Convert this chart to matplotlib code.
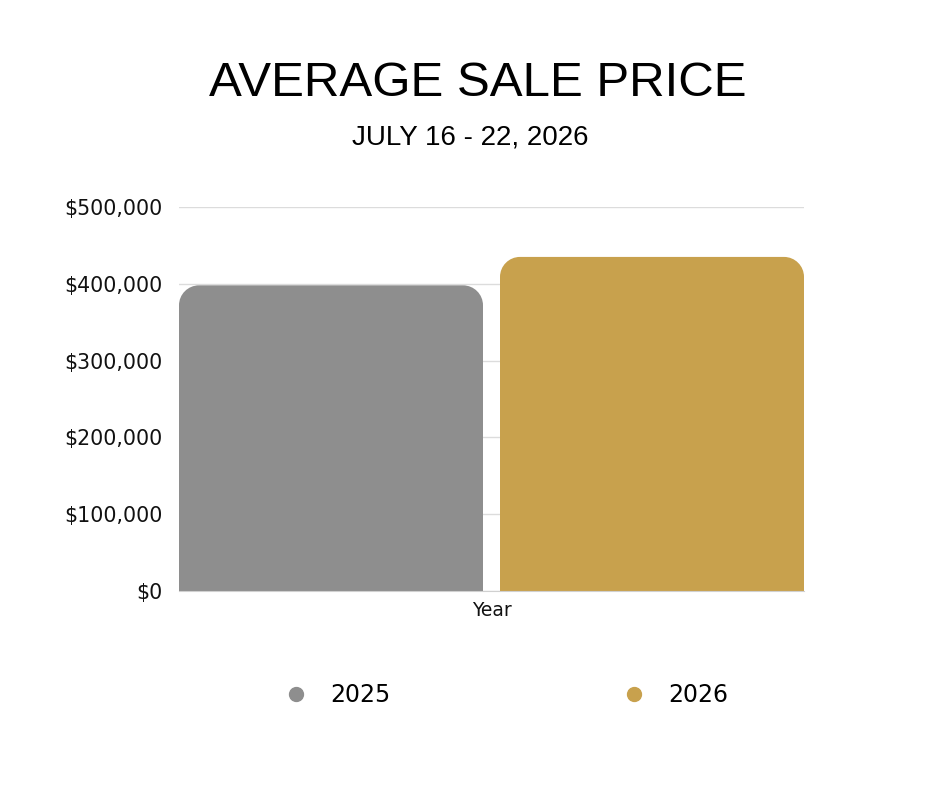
import numpy as np
import matplotlib.pyplot as plt
from matplotlib.path import Path
from matplotlib.patches import PathPatch
from matplotlib.lines import Line2D

# values
years = ["2025", "2026"]
avg_price = [398000, 435000]
bar_colors = ["#8e8e8e", "#c8a14d"]
y_ticks = [0, 100000, 200000, 300000, 400000, 500000]


def rounded_top(x0, w, h, rx, ry):
    """Path for a bar with rounded top corners (data units)."""
    x1 = x0 + w
    k = 0.5523
    verts = [(x0, 0), (x0, h - ry),
             (x0, h - ry + k * ry), (x0 + rx - k * rx, h), (x0 + rx, h),
             (x1 - rx, h),
             (x1 - rx + k * rx, h), (x1, h - ry + k * ry), (x1, h - ry),
             (x1, 0), (x0, 0)]
    codes = [Path.MOVETO, Path.LINETO,
             Path.CURVE4, Path.CURVE4, Path.CURVE4,
             Path.LINETO,
             Path.CURVE4, Path.CURVE4, Path.CURVE4,
             Path.LINETO, Path.CLOSEPOLY]
    return Path(verts, codes)


fig = plt.figure(figsize=(9.4, 7.88), dpi=100)
ax = fig.add_axes([179 / 940, 197 / 788, 625 / 940, 384 / 788])

width = 0.4864
xpos = [width / 2, 1 - width / 2]
bars = ax.bar(xpos, avg_price, width=width, color=bar_colors, zorder=2)

# swap plain rectangles for rounded-top shapes
rx = 20 / 625
ry = 20 / 384 * 500000
for b in bars:
    p = PathPatch(rounded_top(b.get_x(), b.get_width(), b.get_height(), rx, ry),
                  facecolor=b.get_facecolor(), edgecolor="none", zorder=2)
    ax.add_patch(p)
    b.set_visible(False)

ax.set_xlim(0, 1)
ax.set_ylim(0, 500000)
ax.set_yticks(y_ticks)
ax.set_yticklabels(["${:,}".format(v) for v in y_ticks],
                   fontsize=14.8, family="DejaVu Sans", color="#111111")
ax.set_xticks([0.5])
ax.set_xticklabels(["Year"], fontsize=13.5, family="DejaVu Sans", color="#111111")
ax.tick_params(axis="y", length=0, pad=12)
ax.tick_params(axis="x", length=0, pad=7)
ax.grid(axis="y", color="#dcdcdc", linewidth=1, zorder=0)
for s in ["top", "right", "left"]:
    ax.spines[s].set_visible(False)
ax.spines["bottom"].set_color("#d0d0d0")

fig.text(478 / 940, 1 - 83 / 788, "AVERAGE SALE PRICE", ha="center", va="center",
         fontsize=35.5, family="Liberation Sans", color="black")
fig.text(470 / 940, 1 - 138 / 788, "JULY 16 - 22, 2026", ha="center", va="center",
         fontsize=20, family="Liberation Sans", color="black")

handles = [Line2D([], [], linestyle="none", marker="o", markersize=10,
                  color=c) for c in bar_colors]
fig.legend(handles, years, loc="center", bbox_to_anchor=(0.541, 1 - 695 / 788),
           ncol=2, frameon=False, columnspacing=10.0, handlelength=0.6,
           handletextpad=1.14, prop={"family": "DejaVu Sans", "size": 17})

fig.savefig("out.png", dpi=100, facecolor="white")
